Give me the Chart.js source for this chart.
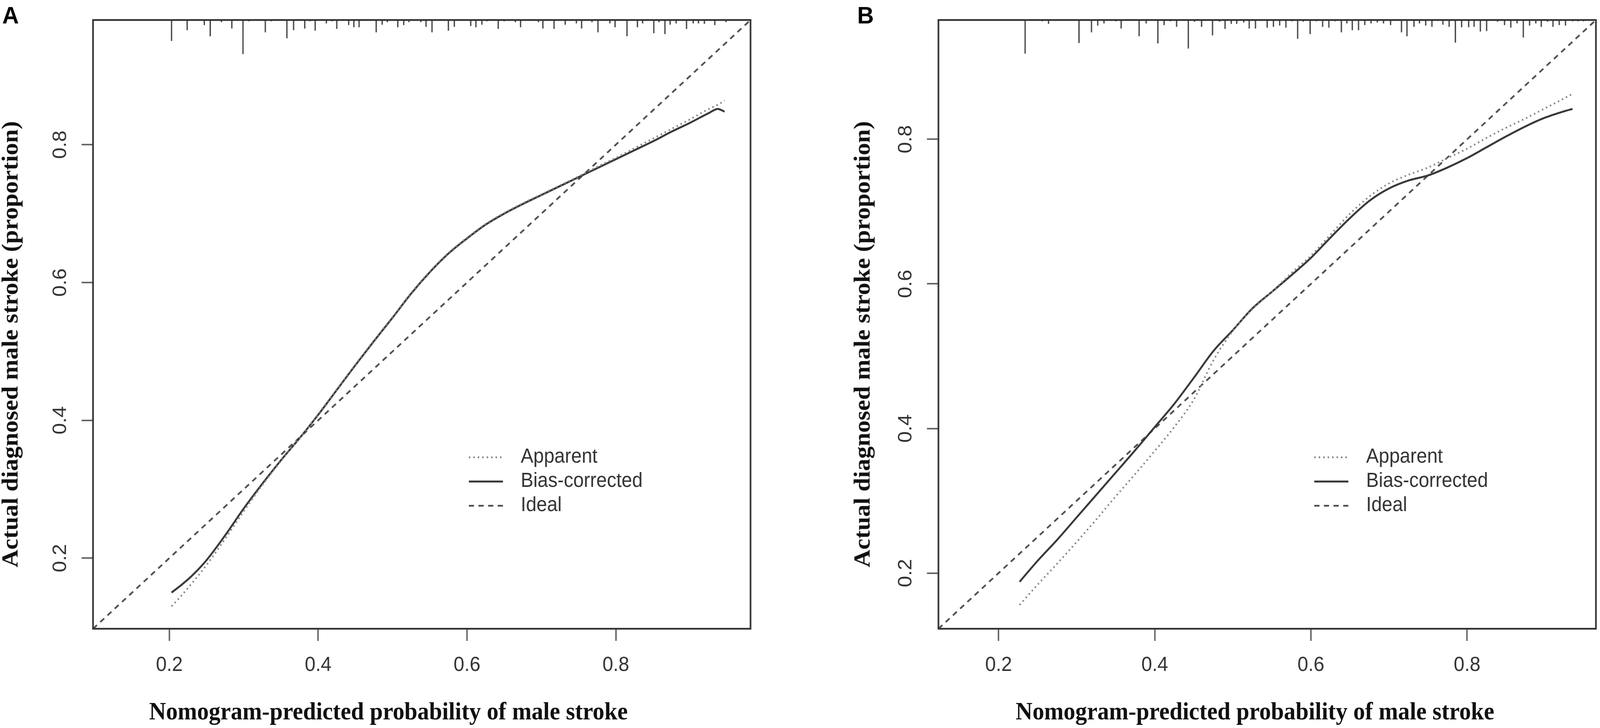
<!DOCTYPE html>
<html lang="en">
<head>
<meta charset="utf-8">
<title>Calibration curves - male stroke nomogram</title>
<script src="https://cdn.jsdelivr.net/npm/chart.js@4.4.1/dist/chart.umd.min.js"></script>
<style>
  html, body { margin: 0; padding: 0; background: #fff; overflow: hidden; }
  #pagina { position: relative; width: 4317px; height: 1863px; transform-origin: 0 0; }
  canvas { position: absolute; top: 0; }
  #graficoA { left: 0; }
  #graficoB { left: 2160px; }
  .letra { position: absolute; top: 8px; font-family: "Liberation Sans", Arial, sans-serif; font-weight: bold; font-size: 62px; line-height: 1; color: #000; }
  .tituloX, .tituloY { position: absolute; font-family: "Liberation Serif", "Times New Roman", serif; font-weight: bold; font-size: 63px; line-height: 1; color: #111; white-space: nowrap; }
  .tituloX { top: 1789px; transform: translateX(-50%); }
  .tituloY { top: 881px; transform: translate(-50%, -50%) rotate(-90deg); }
</style>
</head>
<body>
<div id="pagina">
<canvas id="graficoA" width="2160" height="1863"></canvas>
<canvas id="graficoB" width="2157" height="1863"></canvas>
<div class="letra" style="left:6px">A</div>
<div class="letra" style="left:2313px">B</div>
<div class="tituloY" style="left:27px">Actual diagnosed male stroke (proportion)</div>
<div class="tituloY" style="left:2326px">Actual diagnosed male stroke (proportion)</div>
<div class="tituloX" style="left:1048px">Nomogram-predicted probability of male stroke</div>
<div class="tituloX" style="left:3386px">Nomogram-predicted probability of male stroke</div>
</div>
<script>
// eixos (mesmos limites em x e y em cada painel)
const limitesA = [0.0975, 0.981];
const limitesB = [0.123, 0.965];
const valoresTick = [0.2, 0.4, 0.6, 0.8];
const rotulosTick = ['0.2', '0.4', '0.6', '0.8'];
const legendas = ['Apparent', 'Bias-corrected', 'Ideal'];

// painel A - curvas
const xA = [0.203, 0.215, 0.230, 0.250, 0.275, 0.300, 0.325, 0.350, 0.375, 0.400, 0.425,
  0.450, 0.475, 0.500, 0.525, 0.550, 0.575, 0.600, 0.625, 0.650, 0.675, 0.700, 0.725,
  0.750, 0.775, 0.800, 0.825, 0.850, 0.875, 0.900, 0.925, 0.937, 0.946];
const aparenteA = [0.130, 0.144, 0.163, 0.190, 0.228, 0.268, 0.306, 0.341, 0.374, 0.409, 0.445,
  0.481, 0.516, 0.550, 0.585, 0.616, 0.643, 0.665, 0.685, 0.701, 0.715, 0.728, 0.741,
  0.754, 0.768, 0.781, 0.795, 0.809, 0.823, 0.837, 0.852, 0.858, 0.864];
const corrigidoA = [0.150, 0.160, 0.174, 0.197, 0.233, 0.272, 0.308, 0.342, 0.374, 0.408, 0.444,
  0.480, 0.515, 0.549, 0.584, 0.615, 0.642, 0.664, 0.684, 0.700, 0.714, 0.727, 0.740,
  0.753, 0.766, 0.779, 0.792, 0.805, 0.819, 0.832, 0.846, 0.852, 0.848];

// painel B - curvas
const xB = [0.227, 0.250, 0.275, 0.300, 0.325, 0.350, 0.375, 0.400, 0.425, 0.450, 0.475,
  0.500, 0.525, 0.550, 0.575, 0.600, 0.625, 0.650, 0.675, 0.700, 0.725, 0.750, 0.775,
  0.800, 0.825, 0.850, 0.875, 0.900, 0.925, 0.935];
const aparenteB = [0.156, 0.184, 0.213, 0.243, 0.274, 0.306, 0.337, 0.369, 0.402, 0.440, 0.494,
  0.535, 0.565, 0.589, 0.615, 0.639, 0.668, 0.697, 0.721, 0.739, 0.751, 0.761, 0.774,
  0.787, 0.802, 0.816, 0.829, 0.843, 0.857, 0.863];
const corrigidoB = [0.188, 0.217, 0.246, 0.277, 0.308, 0.339, 0.370, 0.402, 0.434, 0.470, 0.507,
  0.536, 0.566, 0.589, 0.612, 0.636, 0.664, 0.691, 0.715, 0.732, 0.743, 0.750, 0.761,
  0.774, 0.789, 0.804, 0.818, 0.830, 0.839, 0.842];

// histograma de spikes no topo (posicao e frequencia relativa)
const spikeXA = [0.203, 0.224, 0.247, 0.255, 0.270, 0.284, 0.299, 0.307, 0.329, 0.337, 0.358,
  0.367, 0.382, 0.389, 0.396, 0.411, 0.419, 0.425, 0.441, 0.448, 0.455, 0.478, 0.486, 0.493,
  0.507, 0.515, 0.522, 0.538, 0.545, 0.553, 0.575, 0.583, 0.605, 0.612, 0.620, 0.627, 0.642,
  0.650, 0.665, 0.672, 0.696, 0.702, 0.717, 0.732, 0.747, 0.754, 0.768, 0.776, 0.792, 0.799,
  0.815, 0.829, 0.836, 0.851, 0.858, 0.866, 0.873, 0.881, 0.895, 0.904, 0.911, 0.919, 0.933, 0.948];
const spikeFreqA = [49, 24, 12, 38, 5, 20, 80, 3, 29, 3, 43, 24, 20, 3, 25, 8, 3, 21, 12, 17, 17,
  29, 11, 5, 17, 12, 5, 5, 16, 29, 25, 16, 14, 17, 11, 3, 21, 3, 5, 17, 5, 20, 21, 11, 8, 20,
  5, 29, 8, 17, 38, 17, 8, 31, 5, 33, 11, 8, 21, 8, 8, 9, 12, 5];
const spikeXB = [0.234, 0.256, 0.264, 0.303, 0.319, 0.327, 0.335, 0.350, 0.357, 0.380, 0.389,
  0.404, 0.412, 0.420, 0.428, 0.443, 0.451, 0.460, 0.474, 0.483, 0.490, 0.498, 0.505, 0.514,
  0.521, 0.529, 0.544, 0.552, 0.560, 0.568, 0.576, 0.583, 0.590, 0.599, 0.607, 0.615, 0.623,
  0.631, 0.639, 0.646, 0.653, 0.661, 0.669, 0.677, 0.685, 0.693, 0.702, 0.716, 0.723, 0.732,
  0.739, 0.747, 0.755, 0.769, 0.777, 0.785, 0.793, 0.802, 0.809, 0.817, 0.825, 0.839, 0.848,
  0.856, 0.864, 0.872, 0.880, 0.888, 0.895, 0.903, 0.910, 0.918, 0.926, 0.935, 0.942, 0.949];
const spikeFreqB = [79, 3, 9, 54, 29, 13, 8, 3, 20, 38, 8, 55, 12, 3, 16, 67, 4, 16, 36, 4, 21,
  9, 9, 6, 20, 20, 18, 16, 13, 18, 3, 44, 4, 33, 3, 16, 18, 3, 29, 8, 24, 24, 12, 8, 6, 8, 12,
  29, 38, 16, 8, 13, 16, 11, 16, 53, 17, 17, 16, 27, 26, 4, 12, 18, 8, 41, 13, 8, 16, 4, 16,
  12, 13, 3, 3, 3];

const ESCALA_SPIKE = 0.0007; // fracao da faixa do eixo y por unidade de frequencia
const FONTE = '"Liberation Sans", Arial, Helvetica, sans-serif';

// a janela real pode ser menor que 4317x1863: estica a figura para ocupar a janela toda
const escalaX = window.innerWidth / 4317;
const escalaY = window.innerHeight / 1863;
document.getElementById('pagina').style.transform = 'scale(' + escalaX + ',' + escalaY + ')';

function pontos(xs, ys) {
  return xs.map((x, i) => ({ x: x, y: ys[i] }));
}

function pontosSpike(xs, freqs, lim) {
  const pts = [];
  xs.forEach((x, i) => {
    pts.push({ x: x, y: lim[1] });
    pts.push({ x: x, y: lim[1] - freqs[i] * ESCALA_SPIKE * (lim[1] - lim[0]) });
    pts.push({ x: x, y: null });
  });
  return pts;
}

// caixa do grafico (estilo box() do R)
const moldura = {
  id: 'moldura',
  afterDatasetsDraw(chart) {
    const { ctx, chartArea: a } = chart;
    ctx.save();
    ctx.strokeStyle = '#333';
    ctx.lineWidth = 4.5;
    ctx.strokeRect(a.left, a.top, a.right - a.left, a.bottom - a.top);
    ctx.restore();
  }
};

// legenda dentro da area do grafico
const legendaR = {
  id: 'legendaR',
  afterDatasetsDraw(chart, args, opts) {
    const { ctx, chartArea } = chart;
    const itens = chart.data.datasets.filter(d => legendas.includes(d.label));
    ctx.save();
    ctx.font = '51px ' + FONTE;
    ctx.textBaseline = 'middle';
    ctx.fillStyle = '#333';
    itens.forEach((d, i) => {
      const y = chartArea.top + opts.topo + i * opts.passo;
      const x0 = chartArea.left + opts.esquerda;
      ctx.beginPath();
      ctx.setLineDash(d.borderDash || []);
      ctx.strokeStyle = d.borderColor;
      ctx.lineWidth = d.borderWidth;
      ctx.moveTo(x0, y);
      ctx.lineTo(x0 + opts.amostra, y);
      ctx.stroke();
      ctx.setLineDash([]);
      ctx.fillText(d.label, x0 + opts.amostra + opts.espaco, y);
    });
    ctx.restore();
  }
};

function eixo(lim, extra) {
  return Object.assign({
    type: 'linear',
    min: lim[0],
    max: lim[1],
    afterBuildTicks: (s) => { s.ticks = valoresTick.map(v => ({ value: v })); },
    grid: { drawOnChartArea: false, drawTicks: true, tickLength: 31, lineWidth: 4, color: '#666' },
    border: { display: false },
  }, extra);
}

function montarGrafico(id, xs, aparente, corrigido, lim, spX, spF, larguraY, direita) {
  const dados = {
    datasets: [
      {
        label: 'Apparent',
        data: pontos(xs, aparente),
        borderColor: '#858585',
        borderWidth: 4.5,
        borderDash: [4, 8],
        pointRadius: 0,
        cubicInterpolationMode: 'monotone'
      },
      {
        label: 'Bias-corrected',
        data: pontos(xs, corrigido),
        borderColor: '#383838',
        borderWidth: 5,
        pointRadius: 0,
        cubicInterpolationMode: 'monotone'
      },
      {
        label: 'Ideal',
        data: pontos(lim, lim),
        borderColor: '#505050',
        borderWidth: 4.5,
        borderDash: [14, 12],
        pointRadius: 0
      },
      {
        label: 'spikes',
        data: pontosSpike(spX, spF, lim),
        borderColor: '#444',
        borderWidth: 3.5,
        pointRadius: 0,
        spanGaps: false
      }
    ]
  };

  const config = {
    type: 'line',
    data: dados,
    options: {
      responsive: false,
      devicePixelRatio: 1,
      animation: false,
      layout: { padding: { left: 0, right: direita, top: 26, bottom: 0 } },
      plugins: {
        legend: { display: false },
        tooltip: { enabled: false },
        legendaR: { esquerda: 1014, topo: 1119, passo: 62, amostra: 92, espaco: 48 }
      },
      scales: {
        x: eixo(lim, {
          afterFit: (s) => { s.height = 254; },
          ticks: {
            font: { family: FONTE, size: 52 }, color: '#333', padding: 31,
            maxRotation: 0, callback: (v, i) => rotulosTick[i]
          }
        }),
        y: eixo(lim, {
          afterFit: (s) => { s.width = larguraY; },
          ticks: {
            font: { family: FONTE, size: 52 }, color: '#333', padding: 20,
            minRotation: 90, maxRotation: 90, crossAlign: 'center',
            callback: (v, i) => rotulosTick[i]
          }
        })
      }
    },
    plugins: [moldura, legendaR]
  };

  return new Chart(document.getElementById(id), config);
}

const graficoA = montarGrafico('graficoA', xA, aparenteA, corrigidoA, limitesA, spikeXA, spikeFreqA, 251, 135);
const graficoB = montarGrafico('graficoB', xB, aparenteB, corrigidoB, limitesB, spikeXB, spikeFreqB, 372, 11);
</script>
</body>
</html>
